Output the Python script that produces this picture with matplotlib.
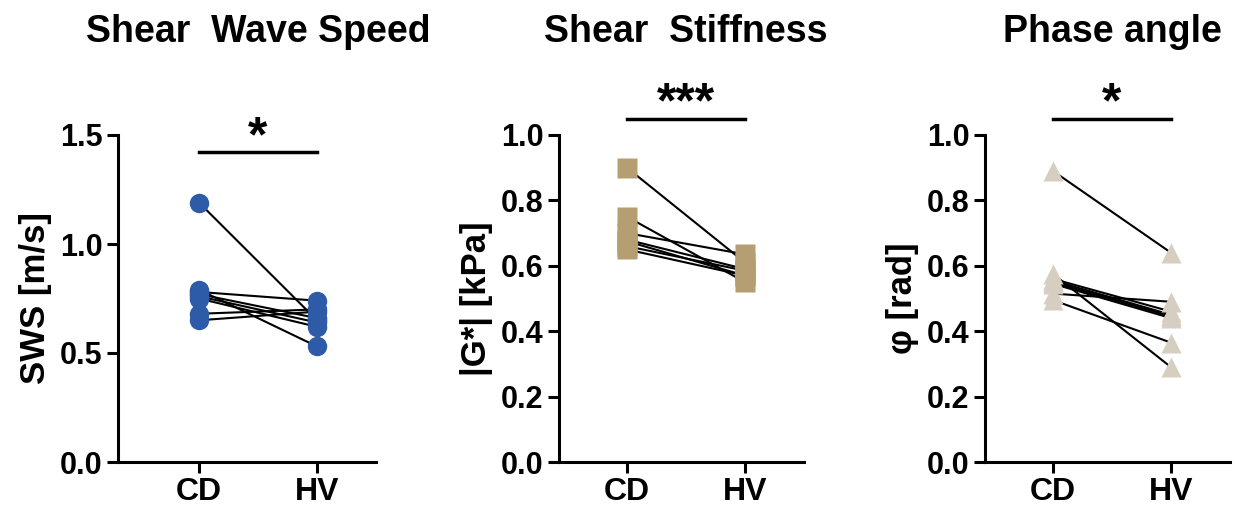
import matplotlib
matplotlib.use("Agg")
import matplotlib.pyplot as plt
from matplotlib.transforms import offset_copy

plt.rcParams['font.family'] = ['Liberation Sans', 'DejaVu Sans']
plt.rcParams['font.weight'] = 'bold'

groups = ["CD", "HV"]

# paired values per subject (CD, HV)
sws_cd = [1.19, 0.79, 0.78, 0.77, 0.76, 0.75, 0.68, 0.65]
sws_hv = [0.65, 0.53, 0.74, 0.66, 0.64, 0.62, 0.70, 0.69]

g_cd = [0.90, 0.75, 0.70, 0.68, 0.675, 0.66, 0.65]
g_hv = [0.61, 0.55, 0.635, 0.59, 0.57, 0.585, 0.57]

phi_cd = [0.89, 0.575, 0.56, 0.555, 0.55, 0.545, 0.515, 0.495]
phi_hv = [0.64, 0.29, 0.46, 0.45, 0.445, 0.44, 0.49, 0.365]

panels = [
    dict(title="Shear  Wave Speed", ylabel="SWS [m/s]", cd=sws_cd, hv=sws_hv,
         ylim=1.5, yticks=[0.0, 0.5, 1.0, 1.5], marker="o", color="#2D5BA7",
         star="*", bar=1.42, left=118, off=81),
    dict(title="Shear  Stiffness", ylabel="|G*| [kPa]", cd=g_cd, hv=g_hv,
         ylim=1.0, yticks=[0.0, 0.2, 0.4, 0.6, 0.8, 1.0], marker="s", color="#B59E72",
         star="***", bar=1.05, left=559, off=68),
    dict(title="Phase angle", ylabel="φ [rad]", cd=phi_cd, hv=phi_hv,
         ylim=1.0, yticks=[0.0, 0.2, 0.4, 0.6, 0.8, 1.0], marker="^", color="#D6CFC1",
         star="*", bar=1.05, left=985, off=68),
]

W, H = 1253, 513
fig = plt.figure(figsize=(W / 100, H / 100), dpi=100)

unit = 118.0  # px per category step
for p in panels:
    x0 = -p["off"] / unit
    x1 = 1.5
    ax = fig.add_axes([p["left"] / W, 51 / H, (x1 - x0) * unit / W, 327 / H])
    ax.set_xlim(x0, x1)
    ax.set_ylim(0, p["ylim"])

    for a, b in zip(p["cd"], p["hv"]):
        ax.plot([0, 1], [a, b], color="black", lw=1.5, zorder=2)
    ms = 14 if p["marker"] != "^" else 15
    ax.plot([0] * len(p["cd"]), p["cd"], ls="none", marker=p["marker"], ms=ms,
            color=p["color"], mec="none", zorder=3, clip_on=False)
    ax.plot([1] * len(p["hv"]), p["hv"], ls="none", marker=p["marker"], ms=ms,
            color=p["color"], mec="none", zorder=3, clip_on=False)

    # significance bar
    ax.plot([0, 1], [p["bar"], p["bar"]], color="black", lw=2.5, clip_on=False)
    tr = offset_copy(ax.transData, fig=fig, x=0, y=10, units="points")
    ax.text(0.5, p["bar"], p["star"], ha="center", va="center", transform=tr,
            fontsize=36, fontweight="bold")

    xc = (p["left"] + p["off"] + unit / 2) / W
    fig.text(xc, 1 - 32 / H, p["title"], ha="center", va="center",
             fontsize=27, fontweight="bold")

    ax.set_ylabel(p["ylabel"], fontsize=25, fontweight="bold", labelpad=6)
    ax.set_xticks([0, 1])
    ax.set_xticklabels(groups, fontsize=23, fontweight="bold")
    ax.set_yticks(p["yticks"])
    ax.set_yticklabels([f"{t:.1f}" for t in p["yticks"]], fontsize=22, fontweight="bold")
    for s in ["top", "right"]:
        ax.spines[s].set_visible(False)
    for s in ["left", "bottom"]:
        ax.spines[s].set_linewidth(2.2)
    ax.tick_params(width=2.2, length=8, pad=3)

fig.savefig("out.png", dpi=100)
